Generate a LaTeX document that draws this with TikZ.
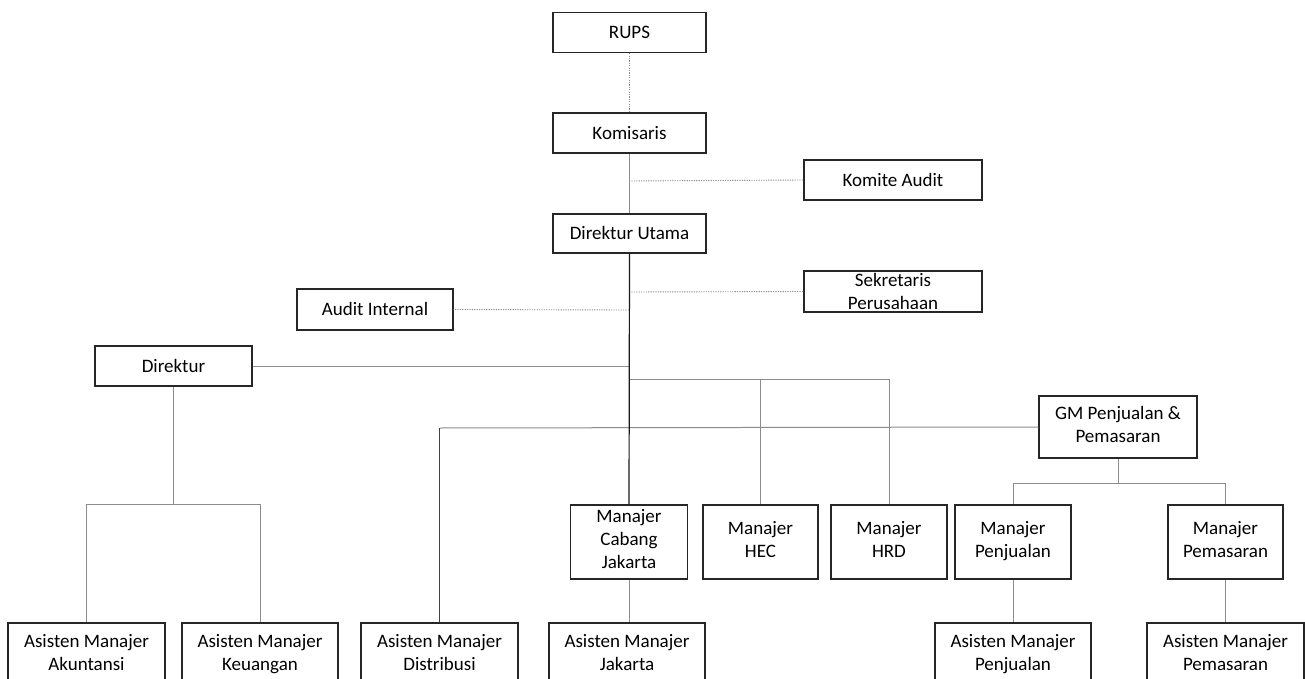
\documentclass[tikz,border=0pt]{standalone}
\usepackage{fontspec}
\setmainfont{Carlito}
\newcommand{\topstr}{\rule{0pt}{18pt}}
\newcommand{\botstr}{\rule[-5.5pt]{0pt}{5.5pt}}
\begin{document}
\begin{tikzpicture}[x=1pt,y=-1pt,
  box/.style={draw=black!85,line width=1.3pt,align=center,inner sep=0pt,
    font=\fontsize{19}{23}\selectfont,fill=white,
    execute at begin node=\topstr,execute at end node=\botstr},
  tightbox/.style={draw=black!85,line width=1.3pt,align=center,inner sep=0pt,
    font=\fontsize{19}{23}\selectfont,fill=white},
  conn/.style={draw=black!45,line width=1pt},
  trunk/.style={draw=black!90,line width=1.2pt},
  dots/.style={draw=black!45,line width=0.9pt,dash pattern=on 1.2pt off 1.2pt}]
\useasboundingbox[fill=white] (0,0) rectangle (1305,679);
\begin{scope}
\clip (0,0) rectangle (1305,679);
% junction coordinates
\coordinate (jkom) at (629,181);
\coordinate (jsek) at (629,292);
\coordinate (jaud) at (629,310);
\coordinate (jdir) at (629,366);
\coordinate (jmgr) at (629,379);
\coordinate (jhec) at (760.5,379);
\coordinate (jhrd) at (889,379);
\coordinate (jdis) at (439.5,428);
\coordinate (jgm) at (1118,483);
\coordinate (jdir2) at (173.5,504);
% nodes
\node[box,minimum width=153pt,minimum height=40pt] (rups) at (629.5,32.5) {RUPS};
\node[box,minimum width=153pt,minimum height=40pt] (kom) at (629.5,133) {Komisaris};
\node[box,minimum width=178pt,minimum height=40pt] (komite) at (893,180) {Komite Audit};
\node[box,minimum width=153pt,minimum height=39pt] (dirut) at (629.5,233.5) {Direktur Utama};
\node[tightbox,minimum width=178pt,minimum height=41pt] (sekr) at (893,291.5) {\rule{0pt}{14pt}Sekretaris\\Perusahaan\rule[-1pt]{0pt}{1pt}};
\node[box,minimum width=156pt,minimum height=41pt] (audit) at (375,309.5) {Audit Internal};
\node[box,minimum width=157pt,minimum height=40pt] (dir) at (173.5,366) {Direktur};
\node[box,minimum width=158pt,minimum height=62pt] (gm) at (1118,427) {GM Penjualan \&\\Pemasaran};
\node[box,minimum width=117pt,minimum height=74pt] (mcj) at (629,542) {Manajer\\Cabang\\Jakarta};
\node[box,minimum width=115pt,minimum height=74pt] (hec) at (760.5,542) {Manajer\\HEC};
\node[box,minimum width=116pt,minimum height=74pt] (hrd) at (889,542) {Manajer\\HRD};
\node[box,minimum width=116pt,minimum height=74pt] (mpj) at (1013,542) {Manajer\\Penjualan};
\node[box,minimum width=115pt,minimum height=74pt] (mpm) at (1225.5,542) {Manajer\\Pemasaran};
\node[box,minimum width=157pt,minimum height=64pt] (aak) at (86.5,655) {Asisten Manajer\\Akuntansi};
\node[box,minimum width=156pt,minimum height=64pt] (akeu) at (260,655) {Asisten Manajer\\Keuangan};
\node[box,minimum width=157pt,minimum height=64pt] (adis) at (439.5,655) {Asisten Manajer\\Distribusi};
\node[box,minimum width=156pt,minimum height=64pt] (ajak) at (627,655) {Asisten Manajer\\Jakarta};
\node[box,minimum width=156pt,minimum height=64pt] (apj) at (1013,655) {Asisten Manajer\\Penjualan};
\node[box,minimum width=157pt,minimum height=64pt] (apm) at (1225.5,655) {Asisten Manajer\\Pemasaran};
% connectors
\draw[dots] (rups.south) -- (kom.north);
\draw[conn] (kom.south) -- (dirut.north);
\draw[dots] (jkom) -- (komite.west);
\draw[dots] (jsek) -- (sekr.west);
\draw[dots] (jaud) -- (audit.east);
\draw[conn] (dir.east) -- (jdir);
\draw[conn] (jmgr) -- (jhrd) -- (hrd.north);
\draw[conn] (jhec) -- (hec.north);
\draw[conn] (gm.west) -- (jdis);
\draw[draw=black!75,line width=1.1pt] (jdis) -- (adis.north);
\draw[trunk] (dirut.south) -- (mcj.north);
\draw[conn] (gm.south) -- (jgm);
\draw[conn] (jgm) -| (mpj.north);
\draw[conn] (jgm) -| (mpm.north);
\draw[conn] (dir.south) -- (jdir2);
\draw[conn] (jdir2) -| (aak.north);
\draw[conn] (jdir2) -| (akeu.north);
\draw[conn] (mcj.south) -- (mcj.south|-ajak.north);
\draw[conn] (mpj.south) -- (apj.north);
\draw[conn] (mpm.south) -- (apm.north);
\end{scope}
\end{tikzpicture}
\end{document}
